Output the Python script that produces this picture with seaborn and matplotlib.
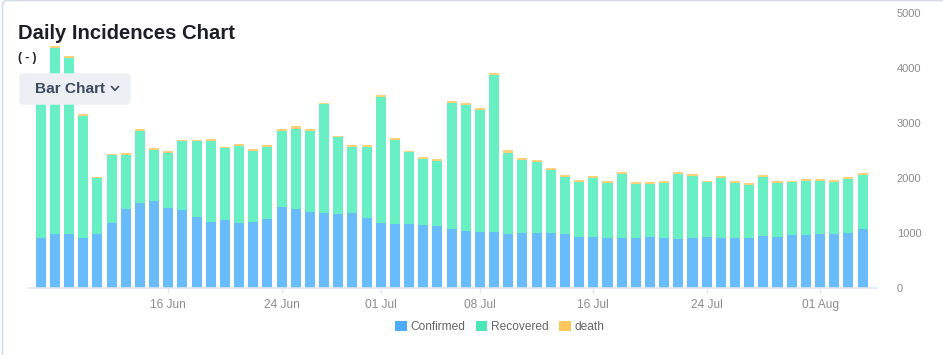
import numpy as np
import pandas as pd
import seaborn as sns
import matplotlib.pyplot as plt
from matplotlib.patches import FancyBboxPatch, Patch
from matplotlib.lines import Line2D
from matplotlib.transforms import IdentityTransform

# daily values (7 Jun - 4 Aug)
dates = pd.date_range('2020-06-07', '2020-08-04', freq='D')
confirmed = [914, 988, 988, 914, 988, 1188, 1448, 1558, 1588, 1461,
             1424, 1297, 1206, 1242, 1188, 1212, 1261, 1485, 1448, 1394,
             1370, 1358, 1370, 1285, 1188, 1176, 1170, 1152, 1139, 1079,
             1042, 1030, 1018, 994, 1012, 1012, 1006, 994, 939, 933,
             921, 921, 914, 927, 921, 897, 909, 933, 914, 914,
             914, 958, 939, 964, 976, 994, 988, 1000, 1079]
recovered = [2851, 3382, 3195, 2225, 1011, 1229, 976, 1304, 927, 1004,
             1249, 1375, 1480, 1304, 1400, 1285, 1304, 1371, 1457, 1473,
             1975, 1388, 1200, 1290, 2291, 1528, 1302, 1195, 1176, 2297,
             2287, 2203, 2861, 1475, 1317, 1280, 1141, 1030, 1001, 1068,
             994, 1153, 988, 975, 994, 1189, 1134, 995, 1087, 1006,
             965, 1068, 976, 969, 982, 964, 953, 983, 982]
death = [35, 30, 35, 30, 25, 25, 30, 35, 30, 25,
         30, 25, 35, 30, 30, 30, 35, 35, 40, 30,
         25, 30, 30, 25, 30, 35, 25, 35, 30, 30,
         35, 40, 30, 40, 35, 35, 35, 30, 30, 35,
         30, 35, 25, 25, 30, 35, 30, 30, 35, 25,
         30, 40, 30, 25, 30, 30, 35, 35, 30]
tick_dates = ['2020-06-16', '2020-06-24', '2020-07-01', '2020-07-08',
              '2020-07-16', '2020-07-24', '2020-08-01']
series_names = ['Confirmed', 'Recovered', 'death']

bar_colors = ['#69BCFC', '#68F0C4', '#FFD07A']
legend_colors = ['#4DADFB', '#4AE8B8', '#FFC85C']

df = pd.DataFrame({'date': dates.strftime('%d %b'),
                   'Confirmed': confirmed, 'Recovered': recovered, 'death': death})
df['c_r'] = df['Confirmed'] + df['Recovered']
df['total'] = df['c_r'] + df['death']

sns.set_theme(style='white')
plt.rcParams['font.family'] = ['Liberation Sans', 'DejaVu Sans']

W, H = 943, 355
fig = plt.figure(figsize=(W / 100, H / 100), dpi=100)
ax = fig.add_axes([29.3 / W, (H - 288.3) / H, 847.4 / W, 275 / H])

# stacked bars: draw cumulative heights back to front
for col, c in zip(['total', 'c_r', 'Confirmed'], bar_colors[::-1]):
    sns.barplot(data=df, x='date', y=col, color=c, saturation=1,
                width=0.71, linewidth=0, ax=ax)

ax.set_xlim(-0.805, 59.0)
ax.set_ylim(0, 5000)
ax.set_xlabel('')
ax.set_ylabel('')

tick_pos = [list(dates.strftime('%Y-%m-%d')).index(d) for d in tick_dates]
ax.set_xticks(tick_pos)
ax.set_xticklabels([pd.Timestamp(d).strftime('%d %b') for d in tick_dates])
ax.tick_params(axis='x', length=3.6, width=1, color='#E0E6F1', colors='#8C8C8C',
               labelsize=8.6, pad=4, bottom=True)

ax.yaxis.tick_right()
ax.set_yticks([0, 1000, 2000, 3000, 4000, 5000])
ax.tick_params(axis='y', length=0, labelsize=8, colors='#8C8C8C', pad=14.5)
for lab in ax.get_yticklabels():
    lab.set_horizontalalignment('left')

for s in ['top', 'right', 'left']:
    ax.spines[s].set_visible(False)
ax.spines['bottom'].set_color('#E0E6F1')
ax.spines['bottom'].set_linewidth(1.2)

# card border
fig.patches.append(FancyBboxPatch((2.5, -20), 980, H - 0.5 + 20,
                                  boxstyle='round,pad=0,rounding_size=5',
                                  fc='none', ec='#D3DCE8', lw=1.2,
                                  transform=IdentityTransform(), figure=fig))

fig.text(18.3 / W, 1 - 39 / H, 'Daily Incidences Chart', fontsize=14.6,
         fontweight='bold', color='#1E1E28', va='baseline')
fig.text(18.3 / W, 1 - 61 / H, '( - )', fontsize=8.5, fontweight='bold',
         color='#1E1E28', va='baseline')

# "Bar Chart" dropdown button
fig.patches.append(FancyBboxPatch((19.3, H - 104.7), 111.4, 31.4,
                                  boxstyle='round,pad=0,rounding_size=4',
                                  fc='#ECF0F5', ec='none',
                                  transform=IdentityTransform(), figure=fig))
fig.text(35 / W, 1 - 88.8 / H, 'Bar Chart', fontsize=11.1, fontweight='bold',
         color='#3B4A5E', va='center')
fig.lines.append(Line2D([111.5, 115, 118.5], [H - 86.5, H - 90.3, H - 86.5],
                        color='#3B4A5E', lw=1.2, transform=IdentityTransform(),
                        figure=fig))

handles = [Patch(facecolor=c, edgecolor='none', label=n)
           for c, n in zip(legend_colors, series_names)]
fig.legend(handles=handles, loc='center', bbox_to_anchor=(499.5 / W, 1 - 326.7 / H),
           ncol=3, frameon=False, fontsize=8.6, handlelength=1.0, handleheight=0.95,
           handletextpad=0.28, columnspacing=0.86, labelcolor='#666666',
           borderaxespad=0, borderpad=0)

fig.savefig('out.png', dpi=100)
